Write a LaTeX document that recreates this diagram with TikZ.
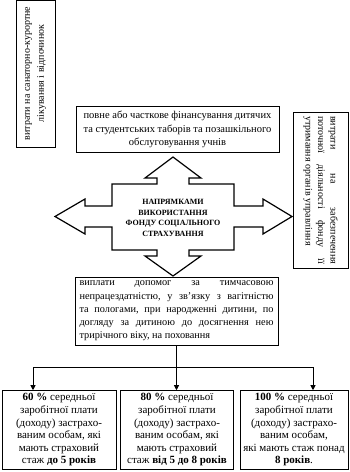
\documentclass[tikz,border=0pt]{standalone}
\usepackage{fontspec}
\setmainfont{Liberation Serif}
\usetikzlibrary{arrows.meta}
\tikzset{
  box/.style={draw, line width=0.9pt, inner sep=3pt},
  arr/.style={line width=0.9pt, -{Triangle[length=5pt,width=5pt]}},
  ln/.style={line width=0.9pt},
  crossshape/.style={draw, line width=1.2pt, line join=miter},
  lowbox/.style={box, minimum height=76, align=center, font=\fontsize{11}{12.6}\selectfont},
}
\newcommand{\jl}[2]{\hbox to #1{#2}}
\begin{document}
\begin{tikzpicture}[x=1pt,y=-1pt]
\useasboundingbox (0,0) rectangle (350,472);
% left rotated box
\node[box, rotate=90, minimum width=147, minimum height=39, align=center,
  font=\fontsize{10}{14}\selectfont] (sanat) at (35.5,73.5)
  {витрати на санаторно-курортне\\лікування і відпочинок};
% top box
\node[box, minimum width=203, minimum height=46, align=center,
  font=\fontsize{10.5}{13.3}\selectfont] (camps) at (177.5,129.5)
  {повне або часткове фінансування дитячих\\та студентських таборів та позашкільного\\обслуговування учнів};
% right rotated box
\node[box, rotate=-90, minimum width=156, minimum height=55, align=left,
  font=\fontsize{10}{12.5}\selectfont] (fund) at (320.5,190)
  {\jl{148pt}{витрати\hfill на\hfill забезпечення}\\\jl{148pt}{поточної\hfill діяльності\hfill фонду\hfill її}\\утримання органів управління};
% cross arrow
\draw[crossshape] (173,157) -- (201,178) -- (189,178) -- (189,184) -- (234,184) -- (234,206)
  -- (263,206) -- (263,199) -- (292,216.5) -- (263,234) -- (263,227) -- (234,227)
  -- (234,250) -- (189,250) -- (189,256) -- (201,256) -- (173,276) -- (145,256)
  -- (157,256) -- (157,250) -- (112,250) -- (112,227) -- (85,227) -- (85,234)
  -- (55,216.5) -- (85,199) -- (85,206) -- (112,206) -- (112,184) -- (157,184)
  -- (157,178) -- (145,178) -- cycle;
\node[align=center, font=\fontsize{8}{10.5}\selectfont\bfseries] (core) at (173,218)
  {НАПРЯМКАМИ\\ВИКОРИСТАННЯ\\ФОНДУ СОЦІАЛЬНОГО\\СТРАХУВАННЯ};
% payments box
\node[box, minimum width=203, minimum height=68, align=left,
  font=\fontsize{10.3}{13.3}\selectfont] (pay) at (176.5,311)
  {\jl{194pt}{виплати\hfill допомог\hfill за\hfill тимчасовою}\\
   \jl{194pt}{непрацездатністю,\hfill у\hfill зв’язку\hfill з\hfill вагітністю}\\
   \jl{194pt}{та\hfill пологами,\hfill при\hfill народженні\hfill дитини,\hfill по}\\
   \jl{194pt}{догляду\hfill за\hfill дитиною\hfill до\hfill досягнення\hfill нею}\\
   трирічного віку, на поховання};
% bottom boxes
\node[lowbox, minimum width=114] (b1) at (59,430)
  {\textbf{60 \%} середньої\\заробітної плати\\(доходу) застрахо-\\ваним особам, які\\мають страховий\\стаж \textbf{до 5 років}};
\node[lowbox, minimum width=113] (b2) at (177,430)
  {\textbf{80 \%} середньої\\заробітної плати\\(доходу) застрахо-\\ваним особам, які\\мають страховий\\стаж \textbf{від 5 до 8 років}};
\node[lowbox, minimum width=108] (b3) at (294,430)
  {\textbf{100 \%} середньої\\заробітної плати\\(доходу) застрахо-\\ваним особам,\\які мають стаж понад\\\textbf{8 років}.};
% connectors
\coordinate (aL) at (33,367);
\coordinate (aR) at (313,367);
\draw[ln] (aL) -- (aR);
\draw[arr] (aL) -- (aL |- b1.north);
\draw[arr] (aR) -- (aR |- b3.north);
\draw[arr] (pay.south) -- (pay.south |- b2.north);
\end{tikzpicture}
\end{document}
